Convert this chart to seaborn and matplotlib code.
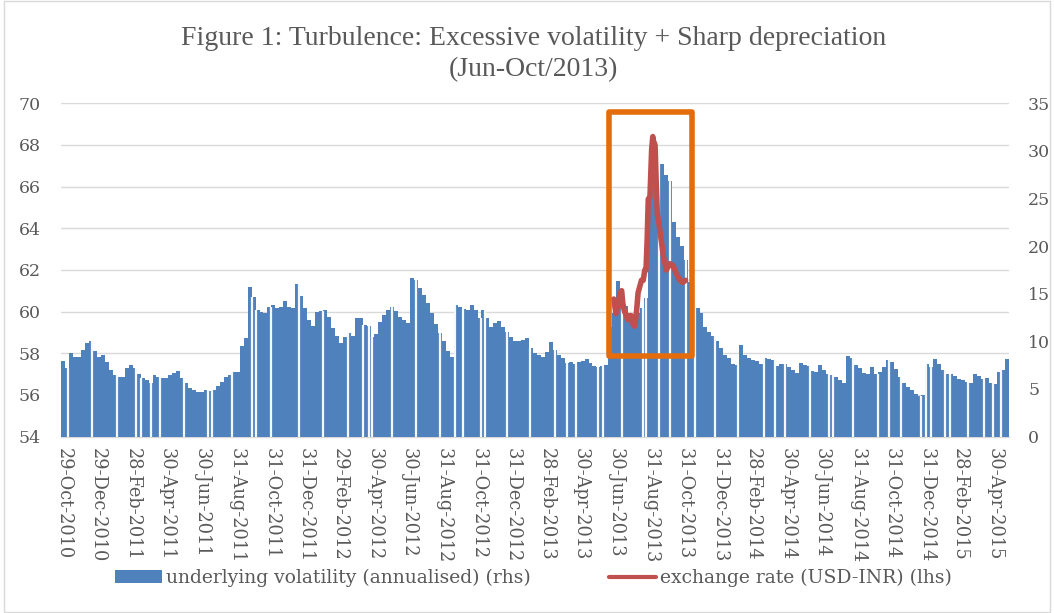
import matplotlib
matplotlib.use("Agg")
import matplotlib.pyplot as plt
import matplotlib.dates as mdates
from matplotlib.patches import Rectangle, Patch
from matplotlib.lines import Line2D
import numpy as np
import pandas as pd
import seaborn as sns

# weekly underlying volatility (annualised), rhs, first week 29-Oct-2010
start_date = "2010-10-29"
volatility = [
    7.9, 7.2, 8.8, 8.4, 8.3, 9.1, 9.8, 10.0, 9.0, 8.3,
    8.6, 7.8, 7.0, 6.5, 6.3, 6.3, 7.2, 7.5, 7.2, 6.6,
    6.1, 5.9, 5.6, 6.5, 6.2, 6.1, 6.1, 6.5, 6.7, 6.9,
    6.1, 5.6, 5.1, 4.9, 4.7, 4.7, 4.9, 4.8, 4.9, 5.3,
    5.7, 6.2, 6.5, 6.8, 6.8, 9.5, 10.4, 15.7, 14.7, 13.3,
    13.1, 13.0, 13.6, 13.8, 13.5, 13.6, 14.2, 13.6, 13.5, 16.0,
    14.8, 13.5, 12.2, 11.6, 13.1, 13.2, 13.3, 12.6, 11.4, 10.6,
    9.8, 10.5, 10.9, 10.6, 12.4, 12.4, 11.7, 11.6, 10.5, 10.8,
    12.0, 12.8, 13.3, 13.6, 13.2, 12.6, 12.2, 11.9, 16.6, 16.4,
    15.6, 14.9, 14.0, 13.0, 11.8, 10.9, 10.0, 9.0, 8.3, 13.8,
    13.6, 13.4, 13.3, 13.8, 13.3, 12.4, 13.3, 12.5, 11.5, 11.9,
    12.1, 11.5, 11.0, 10.5, 10.0, 10.0, 10.1, 10.3, 9.3, 8.8,
    8.6, 8.4, 8.9, 9.9, 9.1, 8.6, 8.2, 7.7, 7.8, 7.6,
    7.8, 7.9, 8.1, 7.7, 7.4, 7.3, 7.4, 7.5, 11.5, 13.0,
    16.3, 15.5, 13.7, 13.0, 12.4, 13.0, 13.5, 14.5, 26.0, 31.5,
    30.2, 28.6, 27.5, 26.8, 22.5, 21.0, 20.0, 18.5, 16.2, 14.0,
    13.5, 13.0, 11.5, 11.0, 10.6, 10.0, 9.3, 8.6, 8.2, 7.6,
    7.5, 9.6, 8.6, 8.2, 8.0, 7.9, 7.6, 8.2, 8.1, 8.0,
    7.4, 7.6, 7.6, 7.3, 7.0, 6.7, 7.7, 7.5, 7.4, 6.9,
    6.8, 7.5, 7.0, 6.6, 6.5, 6.2, 5.9, 5.6, 8.5, 8.2,
    7.5, 7.2, 6.7, 6.6, 7.3, 6.6, 6.8, 7.3, 8.0, 7.8,
    7.1, 6.3, 5.6, 5.2, 4.9, 4.5, 4.3, 4.4, 7.6, 7.3,
    8.1, 7.6, 7.0, 6.6, 6.6, 6.4, 6.0, 5.9, 5.7, 5.6,
    6.6, 6.4, 6.0, 6.1, 5.6, 5.5, 6.8, 7.0, 8.1,
]

# days with no observation (thin breaks in the bars)
gap_dates = [
    "2010-11-06", "2010-12-19", "2011-01-31", "2011-03-07", "2011-03-16",
    "2011-04-02", "2011-04-18", "2011-05-30", "2011-07-11", "2011-07-19",
    "2011-08-23", "2011-09-27", "2011-10-04", "2011-10-30", "2011-12-19",
    "2012-01-30", "2012-03-15", "2012-04-11", "2012-04-20", "2012-04-26",
    "2012-05-31", "2012-07-13", "2012-08-24", "2012-09-20", "2012-10-04",
    "2012-11-05", "2012-11-11", "2012-12-21", "2013-01-31", "2013-03-15",
    "2013-04-05", "2013-04-22", "2013-05-31", "2013-06-08", "2013-07-12",
    "2013-08-18", "2013-08-23", "2013-09-15", "2013-10-05", "2013-11-02",
    "2013-11-17", "2013-12-22", "2014-02-01", "2014-03-20", "2014-04-07",
    "2014-04-26", "2014-06-09", "2014-07-12", "2014-07-19", "2014-08-23",
    "2014-10-06", "2014-10-27", "2014-11-16", "2014-12-21", "2014-12-30",
    "2015-01-08", "2015-02-02", "2015-02-10", "2015-03-15", "2015-04-12",
    "2015-04-27", "2015-05-12",
]

# exchange rate USD-INR (lhs), Jun-Oct 2013
fx_dates = [
    "2013-06-27", "2013-07-01", "2013-07-03", "2013-07-05", "2013-07-08",
    "2013-07-11", "2013-07-13", "2013-07-16", "2013-07-18", "2013-07-22",
    "2013-07-25", "2013-07-28", "2013-07-31", "2013-08-03", "2013-08-06",
    "2013-08-09", "2013-08-12", "2013-08-15", "2013-08-18", "2013-08-21",
    "2013-08-23", "2013-08-25", "2013-08-27", "2013-08-30", "2013-09-02",
    "2013-09-04", "2013-09-05", "2013-09-08", "2013-09-10", "2013-09-12",
    "2013-09-15", "2013-09-19", "2013-09-23", "2013-09-28", "2013-10-04",
    "2013-10-10", "2013-10-16", "2013-10-22", "2013-10-27", "2013-11-01",
]
fx_rate = [
    60.6, 59.9, 60.3, 60.2, 60.9, 61.0, 60.4, 60.0, 59.9, 59.6,
    59.8, 59.8, 59.4, 59.3, 59.9, 60.9, 61.2, 61.5, 61.5, 62.0,
    62.0, 63.4, 65.4, 65.5, 67.8, 68.4, 68.2, 68.0, 66.2, 64.7,
    64.2, 63.4, 62.6, 62.0, 62.3, 62.2, 61.8, 61.5, 61.4, 61.5,
]

tick_dates = [
    "2010-10-29", "2010-12-29", "2011-02-28", "2011-04-30", "2011-06-30",
    "2011-08-31", "2011-10-31", "2011-12-31", "2012-02-29", "2012-04-30",
    "2012-06-30", "2012-08-31", "2012-10-31", "2012-12-31", "2013-02-28",
    "2013-04-30", "2013-06-30", "2013-08-31", "2013-10-31", "2013-12-31",
    "2014-02-28", "2014-04-30", "2014-06-30", "2014-08-31", "2014-10-31",
    "2014-12-31", "2015-02-28", "2015-04-30",
]

# highlighted window (Jun-Oct 2013)
box_dates = ["2013-06-18", "2013-11-13"]
box_range = [57.87, 69.6]

title = "Figure 1: Turbulence: Excessive volatility + Sharp depreciation\n(Jun-Oct/2013)"
bar_label = "underlying volatility (annualised) (rhs)"
line_label = "exchange rate (USD-INR) (lhs)"

blue = "#4F81BD"
red = "#C0504D"
orange = "#E46C0A"
grey_txt = "#595959"
grid_c = "#D9D9D9"
gap_c = "#F4F8FC"

sns.set_theme(style="white")
plt.rcParams["font.family"] = ["DejaVu Serif"]

half = 3.5
week_dates = pd.date_range(start_date, periods=len(volatility), freq="7D")
week_num = np.asarray(mdates.date2num(week_dates), dtype=float)
vol_arr = np.asarray(volatility, dtype=float)
vol_df = pd.DataFrame({"date": week_num, "vol": volatility})
fx_df = pd.DataFrame({"date": mdates.date2num(pd.to_datetime(fx_dates)), "rate": fx_rate})
gap_num = np.asarray(mdates.date2num(pd.to_datetime(gap_dates)), dtype=float)
tick_num = mdates.date2num(pd.to_datetime(tick_dates))
tick_labels = [d.strftime("%d-%b-%Y") for d in pd.to_datetime(tick_dates)]

fig = plt.figure(figsize=(10.54, 6.13), dpi=100)
ax = fig.add_axes([0.0582, 0.2879, 0.957 - 0.0582, 0.8315 - 0.2879])
axb = ax.twinx()   # bars, rhs scale
axl = ax.twinx()   # line, lhs scale

# bars
sns.barplot(data=vol_df, x="date", y="vol", native_scale=True, width=1,
            color=blue, saturation=1, edgecolor="none", linewidth=0,
            errorbar=None, ax=axb)
# breaks: height of the weekly bar that holds each missing day
idx = np.clip(np.searchsorted(week_num - half, gap_num) - 1, 0, len(vol_arr) - 1)
axb.vlines(gap_num, 0, vol_arr[idx], colors=gap_c, linewidths=1.6, zorder=10)

# exchange rate
sns.lineplot(data=fx_df, x="date", y="rate", color=red, linewidth=4, ax=axl)

bx = mdates.date2num(pd.to_datetime(box_dates))
axl.add_patch(Rectangle((bx[0], box_range[0]), bx[1] - bx[0], box_range[1] - box_range[0],
                        fill=False, edgecolor=orange, lw=4, joinstyle="round", zorder=5))

# axes
ax.set_xlim(week_num[0] - half, week_num[-1] + half)
ax.set_ylim(54, 70)
ax.set_yticks(range(54, 71, 2))
ax.grid(axis="y", color=grid_c, lw=1)
ax.grid(axis="x", visible=False)
ax.set_xticks(tick_num)
ax.set_xticklabels(tick_labels, rotation=-90)
ax.tick_params(axis="x", length=5, width=1, color="#BFBFBF", pad=3,
               labelsize=12.8, labelcolor=grey_txt)
ax.tick_params(axis="y", length=0, pad=15, labelsize=12.5, labelcolor=grey_txt)

axb.set_ylim(0, 35)
axb.set_yticks(range(0, 36, 5))
axb.tick_params(axis="y", length=0, pad=14, labelsize=12.5, labelcolor=grey_txt)
axb.set_xlabel("")
axb.set_ylabel("")

axl.set_ylim(54, 70)
axl.set_yticks([])
axl.set_xlabel("")
axl.set_ylabel("")
ax.set_xlabel("")
ax.set_ylabel("")

for a in (ax, axb, axl):
    for s in ("top", "left", "right"):
        a.spines[s].set_visible(False)
axb.spines["bottom"].set_visible(False)
axl.spines["bottom"].set_visible(False)
ax.spines["bottom"].set_color(grid_c)
ax.spines["bottom"].set_linewidth(1)

fig.text(0.506, 0.912, title, ha="center", va="center", family="Liberation Serif",
         fontsize=20, color=grey_txt, linespacing=1.3)

handles = [Patch(facecolor=blue, edgecolor="none"), Line2D([], [], color=red, lw=3)]
fig.legend(handles, [bar_label, line_label], loc="center", bbox_to_anchor=(0.506, 0.057),
           ncol=2, frameon=False, fontsize=13.5, handlelength=2.5, handletextpad=0.2,
           columnspacing=4.2, labelcolor=grey_txt)

fig.patches.append(Rectangle((0.004, 0.002), 0.992, 0.996, transform=fig.transFigure,
                             fill=False, edgecolor=grid_c, lw=1))

fig.savefig("out.png", dpi=100)
